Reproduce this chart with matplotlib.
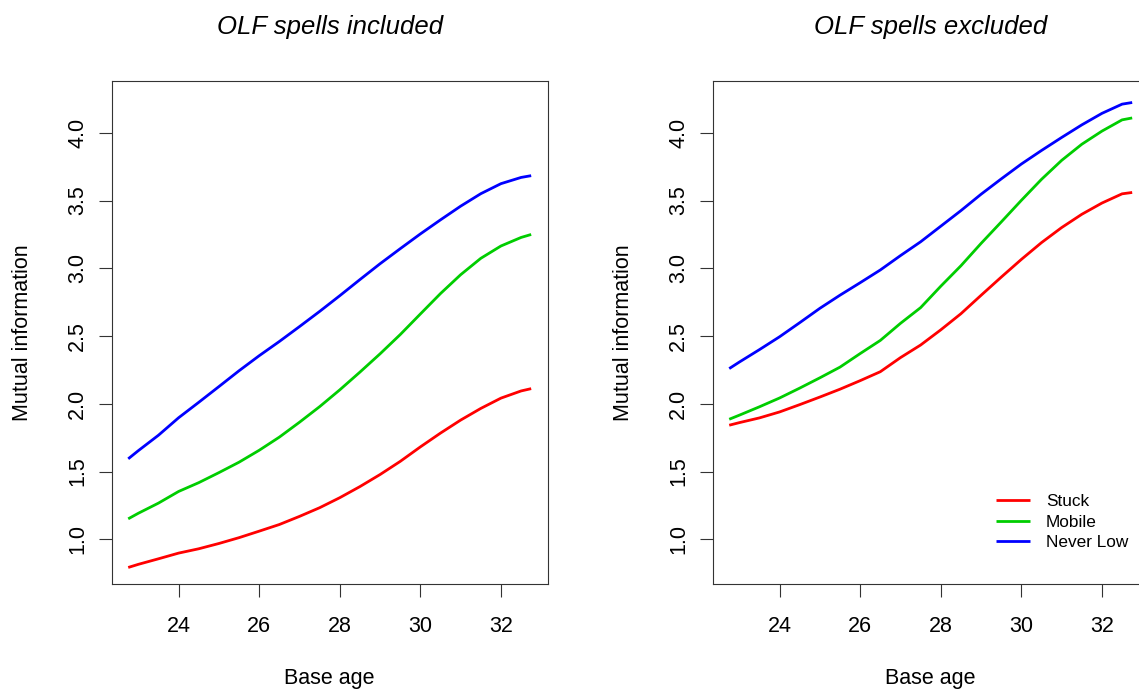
import matplotlib
matplotlib.use('Agg')
import matplotlib.pyplot as plt

plt.rcParams['font.family'] = ['Liberation Sans', 'DejaVu Sans']

# base age grid
ages = [22.75, 23.0, 23.5, 24.0, 24.5, 25.0, 25.5, 26.0, 26.5, 27.0, 27.5,
        28.0, 28.5, 29.0, 29.5, 30.0, 30.5, 31.0, 31.5, 32.0, 32.5, 32.75]

# OLF spells included
inc_stuck = [0.792, 0.815, 0.856, 0.898, 0.930, 0.969, 1.012, 1.060, 1.109, 1.169, 1.233,
             1.307, 1.389, 1.478, 1.575, 1.682, 1.784, 1.880, 1.966, 2.042, 2.095, 2.112]
inc_mobile = [1.151, 1.192, 1.267, 1.353, 1.418, 1.492, 1.569, 1.657, 1.754, 1.864, 1.979,
              2.103, 2.234, 2.369, 2.511, 2.663, 2.814, 2.953, 3.074, 3.165, 3.228, 3.250]
inc_never = [1.594, 1.654, 1.768, 1.897, 2.011, 2.127, 2.244, 2.355, 2.460, 2.570, 2.682,
             2.798, 2.917, 3.034, 3.145, 3.254, 3.358, 3.459, 3.551, 3.625, 3.671, 3.684]

# OLF spells excluded
exc_stuck = [1.842, 1.861, 1.896, 1.940, 1.994, 2.050, 2.108, 2.171, 2.237, 2.341, 2.434,
             2.546, 2.665, 2.801, 2.935, 3.066, 3.190, 3.301, 3.399, 3.482, 3.550, 3.560]
exc_mobile = [1.886, 1.916, 1.978, 2.043, 2.116, 2.192, 2.271, 2.371, 2.468, 2.594, 2.710,
              2.868, 3.019, 3.184, 3.342, 3.502, 3.657, 3.797, 3.916, 4.013, 4.096, 4.110]
exc_never = [2.260, 2.308, 2.400, 2.495, 2.599, 2.705, 2.802, 2.894, 2.988, 3.094, 3.196,
             3.311, 3.426, 3.547, 3.660, 3.770, 3.870, 3.966, 4.059, 4.144, 4.212, 4.224]

labels = ['Stuck', 'Mobile', 'Never Low']
colors = ['#FF0000', '#00CD00', '#0000FF']
titles = ['OLF spells included', 'OLF spells excluded']
panels = [(inc_stuck, inc_mobile, inc_never), (exc_stuck, exc_mobile, exc_never)]

W, H = 1139, 692
fig = plt.figure(figsize=(W / 100, H / 100), dpi=100)
lefts = [111.7, 712.7]
for i in range(2):
    ax = fig.add_axes([lefts[i] / W, (H - 584) / H, 436 / W, (584 - 80.7) / H])
    for ys, c, lab in zip(panels[i], colors, labels):
        ax.plot(ages, ys, color=c, lw=2.0, label=lab, solid_capstyle='butt')
    ax.set_xlim(22.34, 33.16)
    ax.set_ylim(0.67, 4.385)
    ax.set_xticks([24, 26, 28, 30, 32])
    ax.set_yticks([1.0, 1.5, 2.0, 2.5, 3.0, 3.5, 4.0])
    ax.set_yticklabels(['1.0', '1.5', '2.0', '2.5', '3.0', '3.5', '4.0'])
    ax.tick_params(direction='out', length=9.4, width=0.8, color='#333333',
                   labelsize=15.5)
    ax.tick_params(axis='x', pad=13.5)
    ax.tick_params(axis='y', pad=7.5, labelrotation=90)
    for t in ax.get_yticklabels():
        t.set_va('center')
    for s in ax.spines.values():
        s.set_linewidth(0.8)
        s.set_color('#333333')
    ax.set_title(titles[i], fontsize=18.5, style='italic', pad=33.4)
    ax.set_xlabel('Base age', fontsize=15.5)
    ax.set_ylabel('Mutual information', fontsize=15.5)
    ax.xaxis.set_label_coords(0.5, (584 - 668) / 503.3)
    ax.yaxis.set_label_coords((33 - 111.7) / 436, 0.5)

leg = ax.legend(loc='upper left', bbox_to_anchor=(996 / W, 1 - 494 / H),
                bbox_transform=fig.transFigure, frameon=False, fontsize=12.4,
                handlelength=1.98, handletextpad=0.93, labelspacing=0.32,
                borderpad=0, borderaxespad=0)

fig.savefig('out.png', dpi=100)
